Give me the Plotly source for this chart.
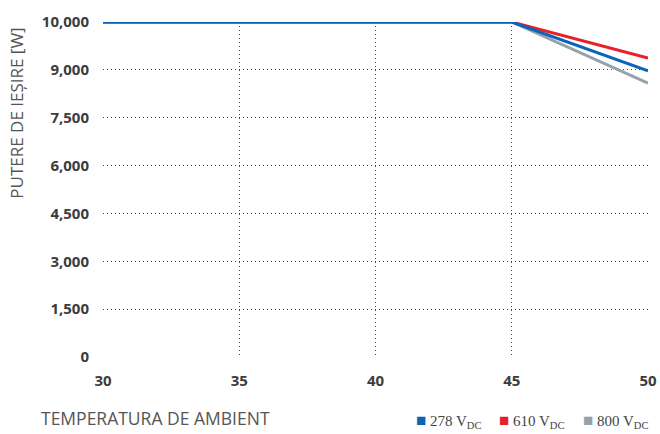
import numpy as np
import plotly.graph_objects as go

# Data
temperature = [30, 35, 40, 45, 50]
power_278 = [10000, 10000, 10000, 10000, 8970]
power_610 = [10000, 10000, 10000, 10000, 9245]
power_800 = [10000, 10000, 10000, 10000, 8585]
series_names = ["278 V<sub>DC</sub>", "610 V<sub>DC</sub>", "800 V<sub>DC</sub>"]
series_colors = ["#0a64b8", "#e8202a", "#94a2aa"]

y_tick_values = [0, 1500, 3000, 4500, 6000, 7500, 9000, 10000]
y_tick_labels = ["0", "1,500", "3,000", "4,500", "6,000", "7,500", "9,000", "10,000"]
x_tick_values = [30, 35, 40, 45, 50]

# The chart's y axis places its ticks equally spaced: map watts onto tick index
tick_index = list(range(len(y_tick_values)))
def to_axis(v):
    return np.interp(v, y_tick_values, tick_index)

fig = go.Figure()
order = [(power_800, 2), (power_610, 1), (power_278, 0)]
for vals, i in order:
    fig.add_trace(go.Scatter(x=temperature, y=to_axis(vals), mode="lines",
                             line=dict(color=series_colors[i], width=3),
                             showlegend=False, hoverinfo="skip"))

grid = dict(showgrid=True, gridcolor="#444444", griddash="1px,3px", gridwidth=1,
            zeroline=False, showline=False, ticks="", automargin=False)
fig.update_xaxes(range=[30, 50], tickvals=x_tick_values, **grid,
                 tickfont=dict(family="Open Sans", size=15, color="#3c3c3c", weight="bold"),
                 ticklabelstandoff=13)
fig.update_yaxes(range=[0, 7], tickvals=tick_index, ticktext=y_tick_labels, **grid,
                 tickfont=dict(family="Open Sans", size=15, color="#3c3c3c", weight="bold"),
                 ticklabelstandoff=13)

fig.add_annotation(text="PUTERE DE IEȘIRE [W]", xref="paper", yref="paper",
                   x=-0.158, y=0.99, xanchor="center", yanchor="top", textangle=-90,
                   showarrow=False, font=dict(family="Open Sans", size=17, color="#555555"))
fig.add_annotation(text="TEMPERATURA DE AMBIENT", xref="paper", yref="paper",
                   x=-0.118, y=-0.182, xanchor="left", yanchor="middle",
                   showarrow=False, font=dict(family="Open Sans", size=17.5, color="#555555"))

legend_x = [0.57, 0.723, 0.877]
for i in range(3):
    fig.add_annotation(
        text=f"<span style='color:{series_colors[i]};font-size:17px'>■</span> {series_names[i]}",
        xref="paper", yref="paper", x=legend_x[i], y=-0.19, xanchor="left", yanchor="middle",
        showarrow=False, font=dict(family="Liberation Serif", size=15, color="#444444"))

fig.update_layout(
    width=660, height=434,
    margin=dict(l=103, r=12, t=22, b=77, autoexpand=False),
    paper_bgcolor="white", plot_bgcolor="white",
    showlegend=False,
)
fig.write_html("out.html", config={"displayModeBar": False},
               post_script="document.body.style.margin='0';document.body.style.overflow='hidden';")
